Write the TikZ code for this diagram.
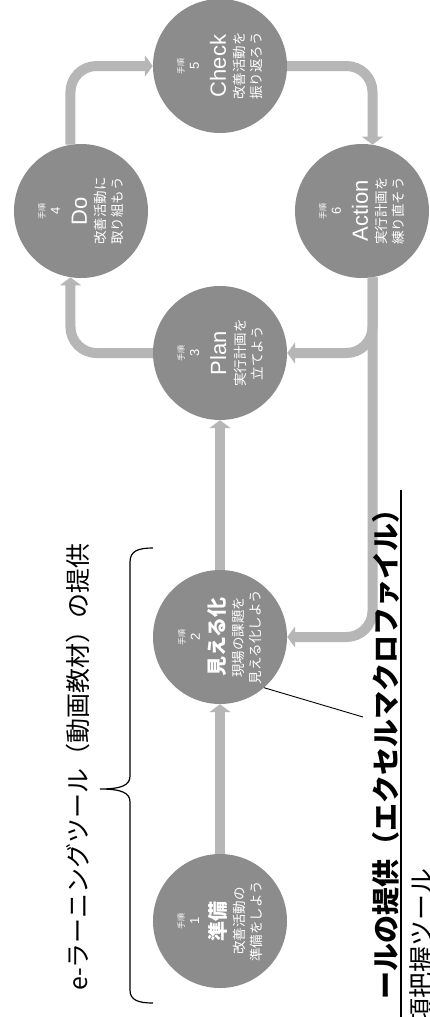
\documentclass[tikz,border=0pt]{standalone}
\usepackage{fontspec}
\setmainfont{Noto Sans CJK JP}
\newfontfamily\lat{Liberation Sans}
\usetikzlibrary{arrows.meta}
\definecolor{circgray}{RGB}{140,140,140}
\definecolor{arrgray}{RGB}{182,182,182}
\newcommand{\tejun}{{\fontsize{8}{8}\selectfont 手順}}
\newcommand{\stepnum}[1]{{\lat\fontsize{13}{13}\selectfont #1}}
\newcommand{\ttl}[1]{{\lat\fontsize{22}{22}\selectfont #1}}
\newcommand{\jttl}[1]{{\bfseries\fontsize{20}{20}\selectfont #1}}
\begin{document}
\begin{tikzpicture}[x=1pt,y=-1pt,
  stepcirc/.style={circle, fill=circgray, minimum size=134pt, inner sep=0pt},
  steplab/.style={rotate=90, align=center, text=white, inner sep=0pt,
    font=\fontsize{13.5}{17}\selectfont},
  conn/.style={draw=arrgray, line width=10pt, rounded corners=26pt,
    -{Triangle[width=21pt,length=8pt]}},
  bracestyle/.style={draw=black, line width=1.2pt},
  thinline/.style={draw=black, line width=0.9pt},
  ulstyle/.style={draw=black, line width=1.4pt}]
\useasboundingbox (0,0) rectangle (429,1017);
\fill[white] (0,0) rectangle (429,1017);

% circles
\node[stepcirc] (s1) at (220,921) {};
\node[stepcirc] (s2) at (220,637) {};
\node[stepcirc] (s3) at (220,353) {};
\node[stepcirc] (s4) at (81,211) {};
\node[stepcirc] (s5) at (220,66) {};
\node[stepcirc] (s6) at (362,211) {};

% connectors
\draw[conn] (s1) -- (s2);
\draw[conn] (s2) -- (s3);
\draw[conn] (s3.west) -| (s4.261);
\draw[conn] (s4.99) |- (s5.west);
\draw[conn] (s5.east) -| (s6.81);
\draw[conn] (s6.279) |- (s2.east);
\draw[conn] (s6.279) |- (s3.east);

% circle texts
\node[steplab] (t1) at (s1) {\tejun\\[-2pt]\stepnum{1}\\[8pt]\jttl{準備}\\[2pt]改善活動の\\準備をしよう};
\node[steplab] (t2) at (s2) {\tejun\\[-2pt]\stepnum{2}\\[8pt]\jttl{見える化}\\[2pt]現場の課題を\\見える化しよう};
\node[steplab] (t3) at (s3) {\tejun\\[-2pt]\stepnum{3}\\[10pt]\ttl{Plan}\\[2pt]実行計画を\\立てよう};
\node[steplab] (t4) at (s4) {\tejun\\[-2pt]\stepnum{4}\\[10pt]\ttl{Do}\\[2pt]改善活動に\\取り組もう};
\node[steplab] (t5) at (s5) {\tejun\\[-2pt]\stepnum{5}\\[10pt]\ttl{Check}\\[2pt]改善活動を\\振り返ろう};
\node[steplab] (t6) at (s6) {\tejun\\[-2pt]\stepnum{6}\\[10pt]\ttl{Action}\\[2pt]実行計画を\\練り直そう};

% brace and its label
\draw[bracestyle] (153,548) .. controls (138,548) and (130,551) .. (130,562)
  -- (130,776) .. controls (130,785) and (122,789) .. (100,789)
  .. controls (122,789) and (130,793) .. (130,802)
  -- (130,990) .. controls (130,1000) and (138,1003) .. (153,1003);
\node[rotate=90, font=\fontsize{25}{25}\selectfont, inner sep=0pt] (elearn) at (78,767)
  {e-ラーニングツール（動画教材）の提供};

% tool labels
\coordinate (lnk) at (363,717);
\draw[thinline] (s2.311) -- (lnk);
\node[rotate=90, anchor=base east, inner sep=0pt,
  font=\bfseries\fontsize{28}{28}\selectfont] (tool) at (396,495)
  {ールの提供（エクセルマクロファイル）};
\coordinate (ul1) at (401,490);
\coordinate (ul2) at (401,1017);
\draw[ulstyle] (ul1) -- (ul2);
\node[rotate=90, anchor=base east, inner sep=0pt,
  font=\fontsize{26}{26}\selectfont] (tool2) at (431,868) {項把握ツール};
\end{tikzpicture}
\end{document}
